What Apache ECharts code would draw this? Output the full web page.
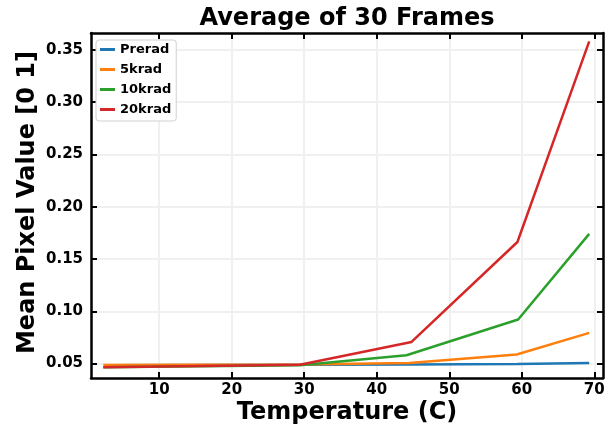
<!DOCTYPE html>
<html>
<head>
<meta charset="utf-8">
<script src="https://cdn.jsdelivr.net/npm/echarts@6/dist/echarts.min.js"></script>
<style>html,body{margin:0;padding:0;background:#fff;}#c{width:609px;height:428px;}</style>
</head>
<body>
<div id="c"></div>
<script>
const seriesNames = ['Prerad', '5krad', '10krad', '20krad'];
const colors = ['#1f77b4', '#ff7f0e', '#2ca02c', '#d62728'];
const tempPrerad = [3.7, 29.4, 44.5, 59.4, 69.3];
const temp5krad = [2.3, 29.4, 44.5, 59.3, 69.3];
const temp10krad = [2.3, 29.4, 44.1, 59.5, 69.3];
const temp20krad = [2.3, 29.4, 44.8, 59.4, 69.3];
const valPrerad = [0.0485, 0.0488, 0.0490, 0.0495, 0.0506];
const val5krad = [0.0487, 0.0490, 0.0506, 0.0586, 0.0793];
const val10krad = [0.0465, 0.0485, 0.0580, 0.0921, 0.1740];
const val20krad = [0.0465, 0.0488, 0.0707, 0.1662, 0.3580];
const xTicks = [10, 20, 30, 40, 50, 60, 70];
const yTicks = [0.05, 0.10, 0.15, 0.20, 0.25, 0.30, 0.35];

const temps = [tempPrerad, temp5krad, temp10krad, temp20krad];
const vals = [valPrerad, val5krad, val10krad, val20krad];
const FONT = 'DejaVu Sans';
const X_MIN = 0.6, X_MAX = 71.2, Y_MIN = 0.0362, Y_MAX = 0.366;

function makeX(pos, show) {
  return {
    type: 'value', position: pos, min: X_MIN, max: X_MAX,
    axisLine: { show: true, onZero: false, lineStyle: { color: '#000', width: 2.5 } },
    axisTick: { show: true, inside: true, length: 6, customValues: xTicks, lineStyle: { color: '#000', width: 2 } },
    axisLabel: { show: show, customValues: xTicks, margin: 5, color: '#000', fontFamily: FONT, fontWeight: 'bold', fontSize: 15 },
    splitLine: { show: show, lineStyle: { color: '#f0f0f0', width: 2 } },
    name: show ? 'Temperature (C)' : '', nameLocation: 'middle', nameGap: 23, nameMoveOverlap: false,
    nameTextStyle: { color: '#000', fontFamily: FONT, fontWeight: 'bold', fontSize: 24 }
  };
}
function makeY(pos, show) {
  return {
    type: 'value', position: pos, min: Y_MIN, max: Y_MAX,
    axisLine: { show: true, onZero: false, lineStyle: { color: '#000', width: 2.5 } },
    axisTick: { show: true, inside: true, length: 6, customValues: yTicks, lineStyle: { color: '#000', width: 2 } },
    axisLabel: { show: show, customValues: yTicks, margin: 8, color: '#000', fontFamily: FONT, fontWeight: 'bold', fontSize: 15,
      formatter: v => v.toFixed(2) },
    splitLine: { show: show, lineStyle: { color: '#f0f0f0', width: 2 } },
    name: show ? 'Mean Pixel Value [0 1]' : '', nameLocation: 'middle', nameGap: 51, nameMoveOverlap: false,
    nameTextStyle: { color: '#000', fontFamily: FONT, fontWeight: 'bold', fontSize: 24, padding: [0, 0, 0, 6] }
  };
}

const chart = echarts.init(document.getElementById('c'), null, { renderer: 'canvas' });
chart.setOption({
  animation: false,
  backgroundColor: '#fff',
  title: {
    text: 'Average of 30 Frames', left: 342, top: 2, textAlign: 'center',
    textStyle: { color: '#000', fontFamily: FONT, fontWeight: 'bold', fontSize: 24 }
  },
  grid: { left: 91, right: 6, top: 33, bottom: 50, containLabel: false, outerBoundsMode: 'none' },
  legend: {
    orient: 'vertical', left: 96, top: 40,
    data: seriesNames.map((n, i) => ({ name: n, icon: 'rect', itemStyle: { color: colors[i] } })),
    itemWidth: 15, itemHeight: 3, itemGap: 3,
    padding: [1, 5, 3, 4],
    backgroundColor: '#fff', borderColor: '#d0d0d0', borderWidth: 1, borderRadius: 3,
    textStyle: { color: '#000', fontFamily: FONT, fontWeight: 'bold', fontSize: 13, lineHeight: 17 }
  },
  xAxis: [makeX('bottom', true), makeX('top', false)],
  yAxis: [makeY('left', true), makeY('right', false)],
  series: seriesNames.map((n, i) => ({
    name: n, type: 'line', xAxisIndex: 0, yAxisIndex: 0,
    data: temps[i].map((t, j) => [t, vals[i][j]]),
    showSymbol: false, symbol: 'none',
    lineStyle: { color: colors[i], width: 2.5 },
    itemStyle: { color: colors[i] }
  }))
});
</script>
</body>
</html>
